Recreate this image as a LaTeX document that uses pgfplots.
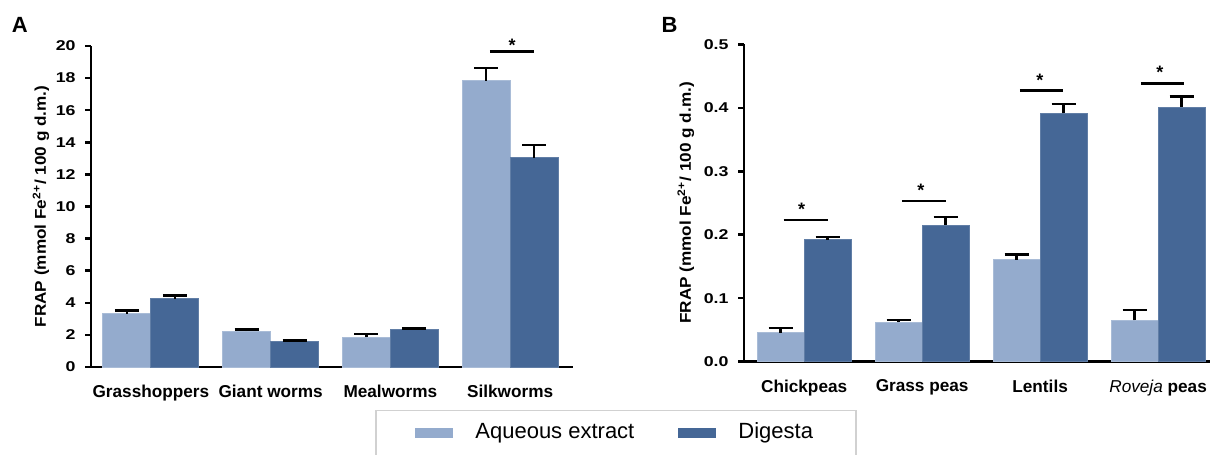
\documentclass[border=0pt]{standalone}
\usepackage{pgfplots}
\usepackage{pgfplotstable}
\pgfplotsset{compat=1.18}
\usepackage{fontspec}
\setmainfont{Liberation Sans}
\newfontfamily\widebold[FakeStretch=1.25, UprightFont={* Bold}]{Liberation Sans}
\newfontfamily\labelbold[FakeStretch=1.1, UprightFont={* Bold}]{Liberation Sans}
\definecolor{lightc}{RGB}{148,171,205}
\definecolor{darkc}{RGB}{69,103,150}

\pgfplotstableread{
x a ae d de
0 3.33 0.20 4.25 0.20
1 2.24 0.09 1.60 0.05
2 1.85 0.20 2.33 0.07
3 17.84 0.80 13.04 0.80
}\dataA
\pgfplotstableread{
x a ae d de
0 0.046 0.007 0.192 0.004
1 0.062 0.004 0.215 0.013
2 0.161 0.008 0.391 0.015
3 0.065 0.016 0.401 0.017
}\dataB

\pgfplotsset{
  panel/.style={
    scale only axis,
    anchor=south west,
    axis x line=bottom, axis y line=left,
    axis line style={-, line width=1.25pt},
    ybar=0pt,
    ymin=0,
    xtick=data,
    x tick style={draw=none},
    y tick style={line width=1.25pt, black},
    tick align=outside,
    major tick length=3pt,
    clip=false,
    xticklabel style={font=\bfseries\fontsize{8.6}{10}\selectfont, yshift=-2.5pt},
    yticklabel style={font=\widebold\fontsize{7.1}{8.5}\selectfont, xshift=-1.2pt},
    /pgf/number format/assume math mode=true,
    ylabel style={font=\labelbold\fontsize{7.8}{9}\selectfont, anchor=south},
  },
  errA/.style={error bars/.cd, y dir=plus, y explicit,
    error bar style={line width=1.2pt, black},
    error mark options={line width=1.2pt, black, mark size=6pt, rotate=90}},
}

\begin{document}
\begin{tikzpicture}
\useasboundingbox (0,0) rectangle (605pt,-227.5pt);

% Panel A
\begin{axis}[panel,
  at={(45.5pt,-183.5pt)},
  width=241pt, height=160.5pt,
  xmin=-0.5, xmax=3.525,
  ymax=20, ytick={0,2,...,20},
  bar width=24pt,
  xticklabels={Grasshoppers, Giant worms, Mealworms, Silkworms},
  ylabel={FRAP (mmol Fe\textsuperscript{2+}/ 100 g d.m.)},
  ylabel style={at={(axis description cs:-0.072,0.5)}},
]
\addplot[fill=lightc, draw=lightc!80!white, line width=0.4pt, errA] table[x=x, y=a, y error=ae] {\dataA};
\addplot[fill=darkc, draw=darkc!85!white, line width=0.4pt, errA] table[x=x, y=d, y error=de] {\dataA};
\draw[line width=1.25pt] (axis cs:2.83,19.67) -- (axis cs:3.2,19.67);
\node[font=\bfseries\fontsize{9}{10}\selectfont, yshift=-1.7pt] at (axis cs:3.016,20.26) {*};
\end{axis}

% Panel B
\begin{axis}[panel,
  at={(372pt,-180.85pt)},
  width=233pt, height=158.7pt,
  xmin=-0.51, xmax=3.44,
  ymax=0.5, ytick={0,0.1,0.2,0.3,0.4,0.5},
  yticklabel style={/pgf/number format/.cd, fixed, fixed zerofill, precision=1},
  bar width=23.5pt,
  xticklabels={Chickpeas, Grass peas, Lentils, {{\mdseries\itshape Roveja} peas}},
  ylabel={FRAP (mmol Fe\textsuperscript{2+}/ 100 g d.m.)},
  ylabel style={at={(axis description cs:-0.092,0.5)}},
]
\addplot[fill=lightc, draw=lightc!80!white, line width=0.4pt, errA] table[x=x, y=a, y error=ae] {\dataB};
\addplot[fill=darkc, draw=darkc!85!white, line width=0.4pt, errA] table[x=x, y=d, y error=de] {\dataB};
\draw[line width=1.25pt] (axis cs:-0.174,0.2232) -- (axis cs:0.198,0.2232);
\draw[line width=1.25pt] (axis cs:0.829,0.2532) -- (axis cs:1.198,0.2532);
\draw[line width=1.25pt] (axis cs:1.829,0.427) -- (axis cs:2.193,0.427);
\draw[line width=1.25pt] (axis cs:2.854,0.4386) -- (axis cs:3.22,0.4386);
\node[font=\bfseries\fontsize{9}{10}\selectfont, yshift=-1.7pt] at (axis cs:-0.022,0.2453) {*};
\node[font=\bfseries\fontsize{9}{10}\selectfont, yshift=-1.7pt] at (axis cs:0.99,0.2752) {*};
\node[font=\bfseries\fontsize{9}{10}\selectfont, yshift=-1.7pt] at (axis cs:1.998,0.448) {*};
\node[font=\bfseries\fontsize{9}{10}\selectfont, yshift=-1.7pt] at (axis cs:3.015,0.4607) {*};
\end{axis}

% Panel letters
\node[font=\bfseries\fontsize{11}{13}\selectfont] at (9.85pt,-12.3pt) {A};
\node[font=\bfseries\fontsize{11}{13}\selectfont] at (334.75pt,-12.5pt) {B};

% Legend
\draw[black!18, line width=0.7pt] (188pt,-205.35pt) rectangle (428pt,-231pt);
\fill[lightc] (207.5pt,-214pt) rectangle (226.5pt,-219pt);
\node[anchor=west, inner sep=0pt, font=\fontsize{11}{13}\selectfont] at (237.5pt,-216.5pt) {Aqueous extract};
\fill[darkc] (339pt,-214pt) rectangle (358pt,-219pt);
\node[anchor=west, inner sep=0pt, font=\fontsize{11}{13}\selectfont] at (369pt,-216.5pt) {Digesta};
\end{tikzpicture}
\end{document}
